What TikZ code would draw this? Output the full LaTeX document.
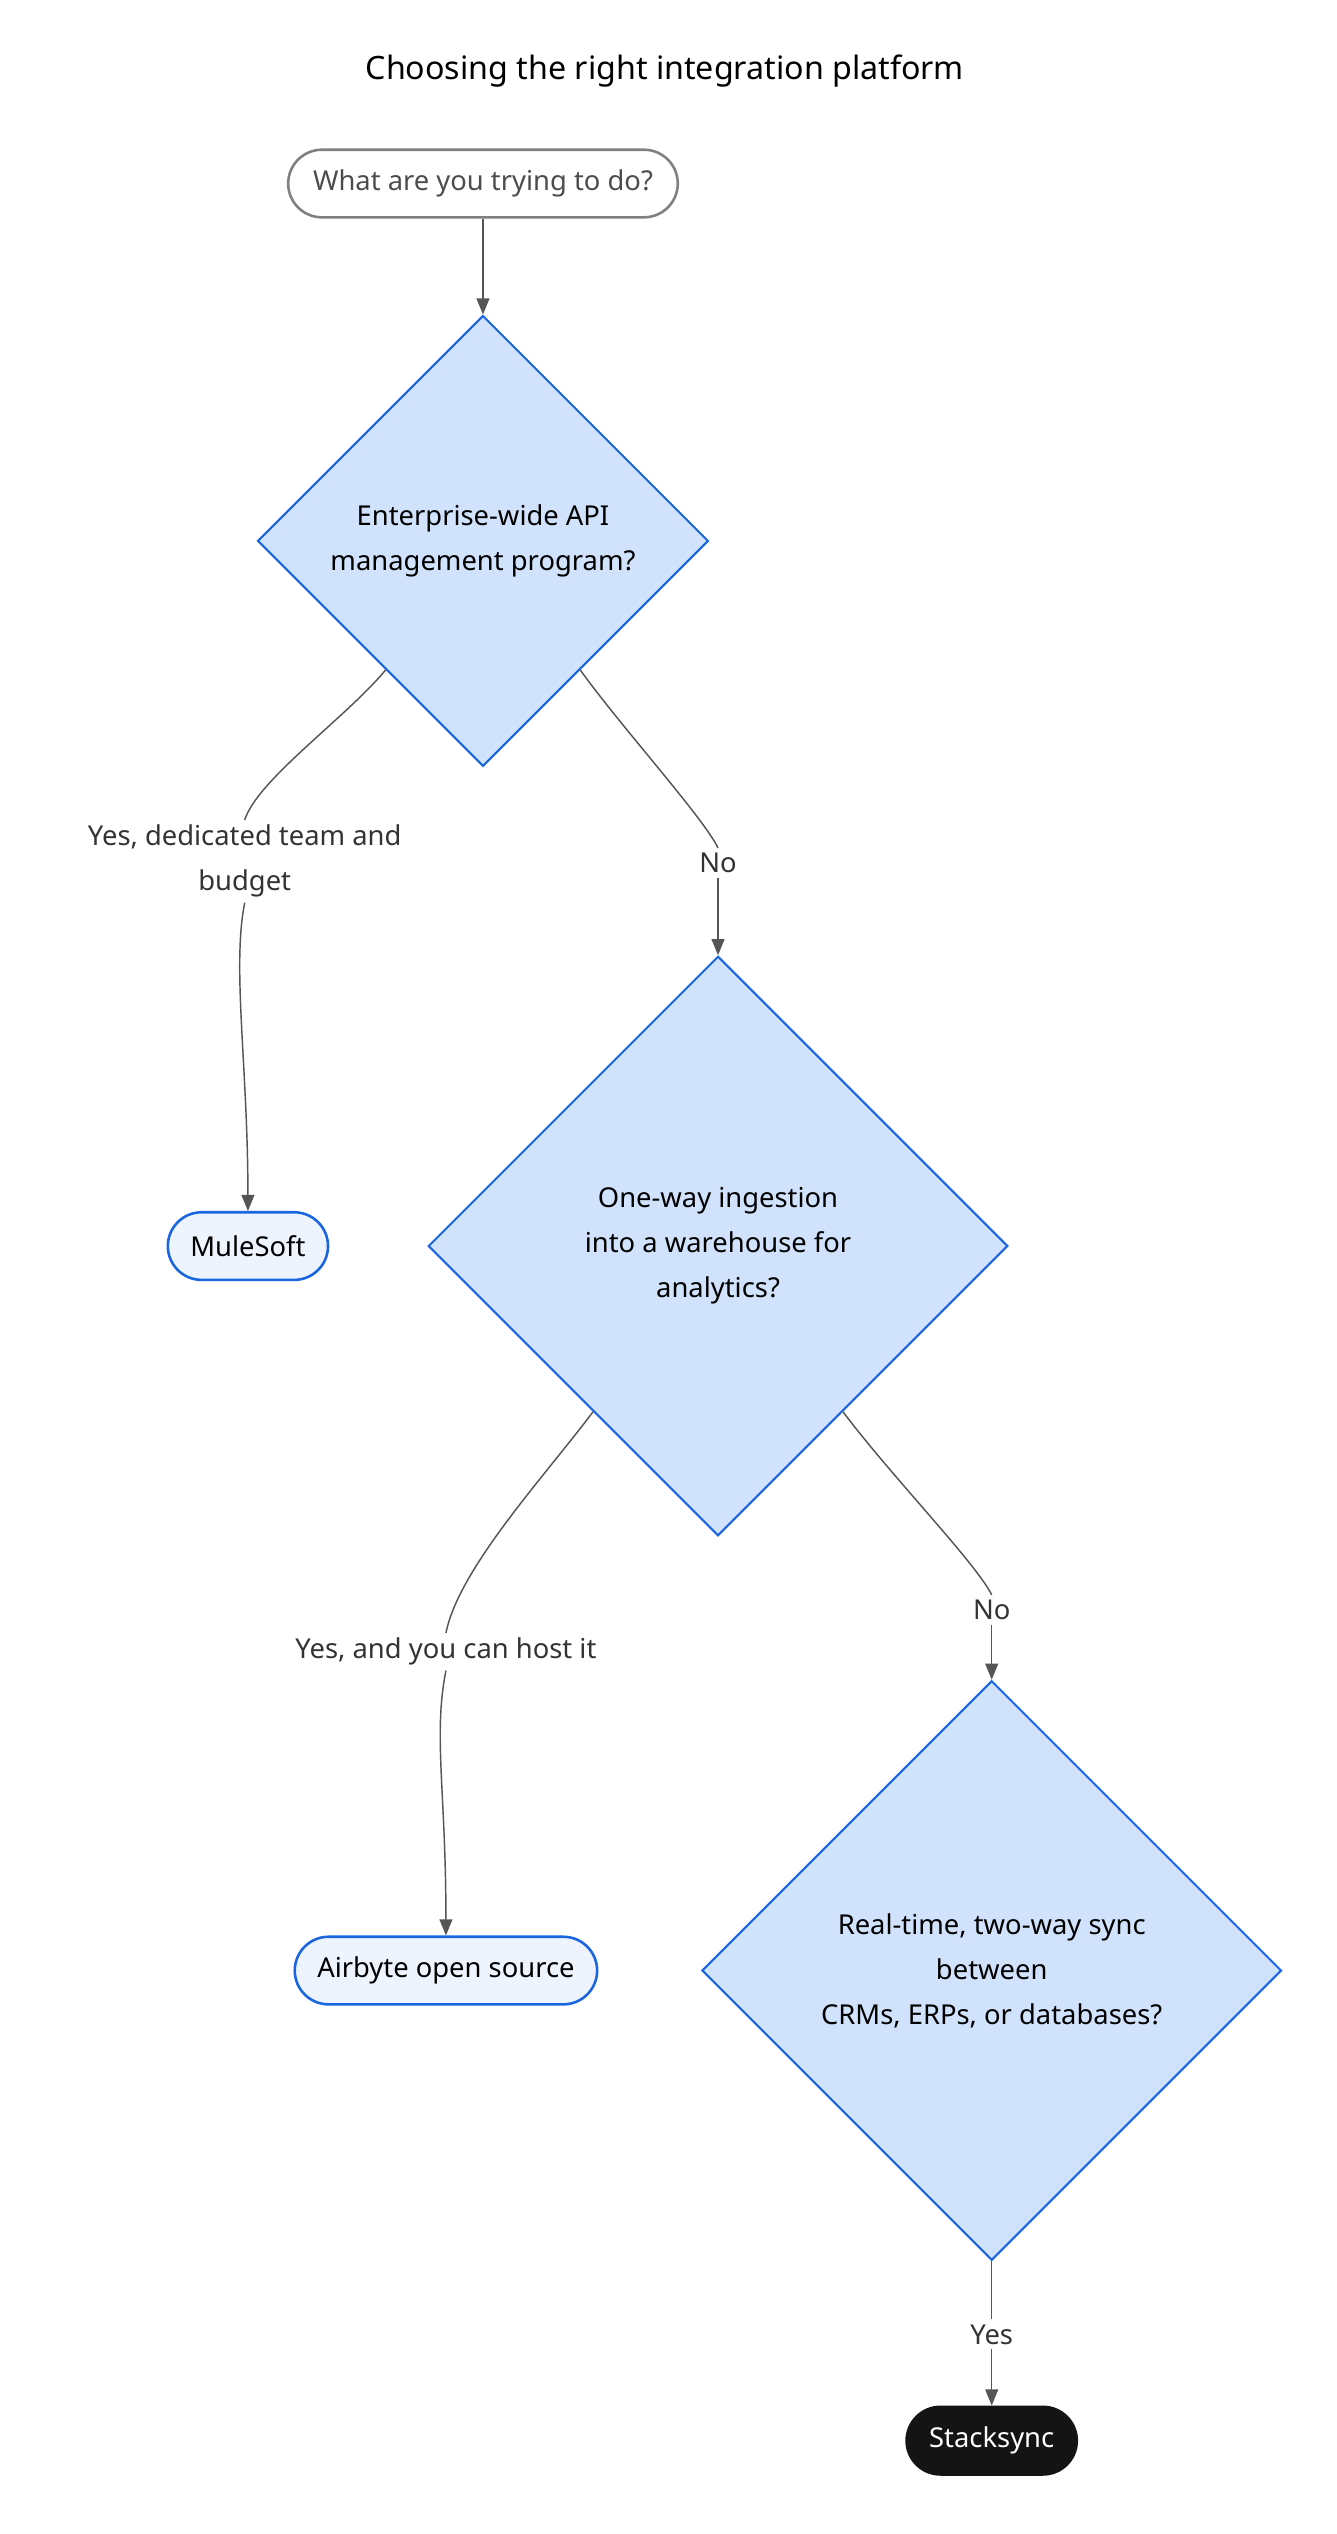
\documentclass[tikz,border=0pt]{standalone}
\usepackage{fontspec}
\setmainfont{Noto Sans}
\usetikzlibrary{shapes.geometric,calc,arrows.meta}
\definecolor{dfill}{HTML}{D0E2FC}
\definecolor{dline}{HTML}{1A66E0}
\definecolor{tfill}{HTML}{EEF4FE}
\definecolor{eline}{HTML}{555555}
\tikzset{
  txt/.style={font=\fontsize{17}{28}\selectfont},
  start/.style={txt, draw=gray, line width=1.6pt, rounded corners=21pt, minimum width=242pt, minimum height=42pt, text=black!70},
  term/.style={txt, draw=dline, fill=tfill, line width=1.6pt, rounded corners=21pt, minimum height=42pt, inner xsep=14pt},
  dec/.style={txt, diamond, aspect=1, draw=dline, fill=dfill, line width=1.3pt, inner sep=0pt, align=center},
  lbl/.style={txt, text=black!80, align=center, inner sep=3pt},
  edge/.style={draw=eline, line width=0.9pt},
  arr/.style={edge, -{Triangle[length=10pt,width=8pt]}}
}
\begin{document}
\begin{tikzpicture}[x=1pt,y=-1pt]
\useasboundingbox (0,0) rectangle (830,1574);

% title
\node[font=\fontsize{20}{24}\selectfont] (title) at (413,44) {Choosing the right integration platform};

% nodes
\node[start] (ask) at (300,114) {What are you trying to do?};
\node[dec, minimum width=280pt, minimum height=280pt] (api) at (300,336) {Enterprise-wide API\\management program?};
\node[dec, minimum width=360pt, minimum height=360pt] (etl) at (446,774) {One-way ingestion\\into a warehouse for\\analytics?};
\node[dec, minimum width=360pt, minimum height=360pt] (sync) at (616,1224) {Real-time, two-way sync\\between\\CRMs, ERPs, or databases?};
\node[term] (mule) at (154,774) {MuleSoft};
\node[term] (airbyte) at (277,1224) {Airbyte open source};
\node[term, fill=black!92, draw=black!92, text=white] (stack) at (616,1516) {Stacksync};

% edge labels
\node[lbl] (yes1) at (152,535) {Yes, dedicated team and\\budget};
\node[lbl] (no1) at (446,536) {No};
\node[lbl] (yes2) at (277,1026) {Yes, and you can host it};
\node[lbl] (no2) at (616,1000) {No};
\node[lbl] (yes3) at (616,1450) {Yes};

% connectors
\draw[arr] (ask.south) -- (api.north);
\draw[edge] ($(api.west)!0.57!(api.south)$) .. controls +(-25,30) and +(8,-25) .. (yes1.north);
\draw[arr] (yes1.south) .. controls +(-8,40) and +(0,-90) .. (mule.north);
\draw[edge] ($(api.east)!0.57!(api.south)$) .. controls +(25,35) and +(-10,-20) .. (no1.north);
\draw[arr] (no1.south) .. controls +(0,15) and +(0,-20) .. (etl.north);
\draw[edge] ($(etl.west)!0.57!(etl.south)$) .. controls +(-30,40) and +(8,-40) .. (yes2.north);
\draw[arr] (yes2.south) .. controls +(-8,40) and +(0,-90) .. (airbyte.north);
\draw[edge] ($(etl.east)!0.57!(etl.south)$) .. controls +(30,40) and +(-10,-20) .. (no2.north);
\draw[arr] (no2.south) .. controls +(0,15) and +(0,-20) .. (sync.north);
\draw[edge] (sync.south) -- (yes3.north);
\draw[arr] (yes3.south) -- (stack.north);
\end{tikzpicture}
\end{document}
